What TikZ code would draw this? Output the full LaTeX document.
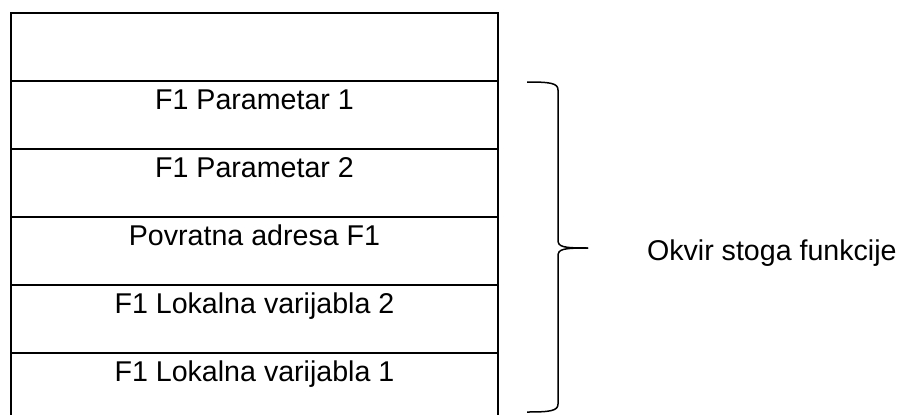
\documentclass[tikz,border=0pt]{standalone}
\usepackage{fontspec}
\setmainfont{Liberation Sans}
\begin{document}
\begin{tikzpicture}[x=0.5pt,y=0.5pt,
  cell/.style={anchor=base,font=\fontsize{14.3}{17}\selectfont},
  lbl/.style={anchor=base west,font=\fontsize{14.3}{17}\selectfont}]
\useasboundingbox (0,0) rectangle (909,414);
\begin{scope}
\clip (0,0) rectangle (909,414);
\draw[line width=1pt] (11,401) rectangle (498,-7);
\foreach \y in {333,265,197,129,61}
  \draw[line width=1pt] (11,\y) -- (498,\y);
\end{scope}
\node[cell] (p1) at (254.5,304.5) {F1 Parametar 1};
\node[cell] (p2) at (254.5,236.5) {F1 Parametar 2};
\node[cell] (ret) at (254.5,168.5) {Povratna adresa F1};
\node[cell] (lv2) at (254.5,100.5) {F1 Lokalna varijabla 2};
\node[cell] (lv1) at (254.5,32.5) {F1 Lokalna varijabla 1};
\coordinate (tip) at (588,166);
\draw[line width=0.75pt] (527,332) .. controls (550,332) and (558,331) .. (558,324)
  -- (558,174) .. controls (558,167) and (563,166) .. (tip);
\draw[line width=0.75pt] (527,2) .. controls (550,2) and (558,3) .. (558,10)
  -- (558,158) .. controls (558,165) and (563,166) .. (tip);
\node[lbl] (okvir) at (640,154) {Okvir stoga funkcije};
\end{tikzpicture}
\end{document}
